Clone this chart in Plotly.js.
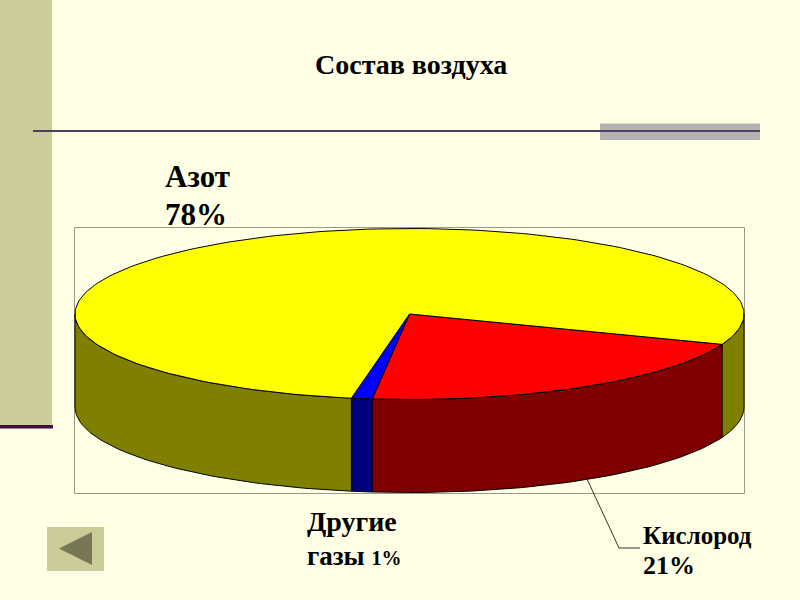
<!DOCTYPE html>
<html>
<head>
<meta charset="utf-8">
<script src="https://cdn.plot.ly/plotly-3.0.1.min.js"></script>
<style>html,body{margin:0;padding:0;background:#FFFFE5}#chart{width:800px;height:600px}</style>
</head>
<body>
<div id="chart"></div>
<script>
// Data
var categories = ['Кислород', 'Другие газы', 'Азот'];
var values = [21, 1, 78];
var topColors = ['#FF0000', '#0000FF', '#FFFF00'];
var sideColors = ['#800000', '#000080', '#808000'];
var titleText = 'Состав воздуха';

// Pie projection
var cx = 409.5, cy = 314, rx = 334.5, ry = 85.5, depth = 93;
var startAngle = -20.8; // degrees, going clockwise

function px(a) { return cx + rx * Math.cos(a * Math.PI / 180); }
function py(a) { return cy - ry * Math.sin(a * Math.PI / 180); }
function arc(a0, a1) { // a0 > a1, clockwise
  var out = [], n = Math.max(2, Math.ceil((a0 - a1) / 1.5));
  for (var i = 0; i <= n; i++) out.push(a0 + (a1 - a0) * i / n);
  return out;
}

var total = values.reduce(function (s, v) { return s + v; }, 0);
var traces = [];
var sideTraces = [];
var topTraces = [];
var a = startAngle;
values.forEach(function (v, i) {
  var sweep = v / total * 360, a0 = a, a1 = a - sweep;
  // Visible outer wall: the part of the rim on the near half of the ellipse
  [0, 360].forEach(function (shift) {
    var s = Math.min(a0 + shift, 0), e = Math.max(a1 + shift, -180);
    if (s > e) {
      var angs = arc(s, e);
      var xs = angs.map(px), ys = angs.map(py);
      var xb = xs.slice().reverse();
      var yb = ys.slice().reverse().map(function (y) { return y + depth; });
      sideTraces.push({
        type: 'scatter', mode: 'lines', fill: 'toself', fillcolor: sideColors[i],
        x: xs.concat(xb, [xs[0]]), y: ys.concat(yb, [ys[0]]),
        line: { color: '#000000', width: 1 }, name: categories[i],
        hoverinfo: 'skip', showlegend: false
      });
    }
  });
  var angs = arc(a0, a1);
  topTraces.push({
    type: 'scatter', mode: 'lines', fill: 'toself', fillcolor: topColors[i],
    x: [cx].concat(angs.map(px), [cx]), y: [cy].concat(angs.map(py), [cy]),
    line: { color: '#000000', width: 1 }, name: categories[i],
    hoverinfo: 'skip', showlegend: false
  });
  a = a1;
});
traces = sideTraces.concat(topTraces);

var serif = '"Liberation Serif", "Times New Roman", serif';
function label(x, y, text, size, anchor) {
  return { x: x, y: y, xref: 'x', yref: 'y', text: text, showarrow: false,
    xanchor: anchor || 'left', yanchor: 'middle',
    font: { family: serif, size: size, color: '#000000' } };
}

var layout = {
  width: 800, height: 600,
  margin: { l: 0, r: 0, t: 0, b: 0 },
  paper_bgcolor: '#FFFFE5', plot_bgcolor: 'rgba(0,0,0,0)',
  showlegend: false,
  xaxis: { range: [0, 800], visible: false, fixedrange: true },
  yaxis: { range: [600, 0], visible: false, fixedrange: true },
  shapes: [
    { type: 'rect', layer: 'below', x0: 0, x1: 52, y0: 0, y1: 425, fillcolor: '#CCCC99', line: { width: 0 } },
    { type: 'rect', layer: 'below', x0: 0, x1: 53, y0: 425, y1: 428.5, fillcolor: '#3F0F3F', line: { width: 0 } },
    { type: 'rect', layer: 'below', x0: 600, x1: 760, y0: 123.5, y1: 140, fillcolor: '#B2B2B2', line: { width: 0 } },
    { type: 'line', layer: 'below', x0: 33, x1: 760, y0: 131, y1: 131, line: { color: '#4F3F5F', width: 2 } },
    { type: 'rect', layer: 'below', x0: 74.5, x1: 744.5, y0: 227.5, y1: 493.5, fillcolor: 'rgba(0,0,0,0)', line: { color: '#999988', width: 1 } },
    { type: 'rect', layer: 'below', x0: 47, x1: 104, y0: 527, y1: 571, fillcolor: '#CCCC99', line: { width: 0 } },
    { type: 'path', layer: 'below', path: 'M 92 532 L 92 565 L 59 548.5 Z', fillcolor: '#777755', line: { width: 0 } },
    { type: 'path', layer: 'above', path: 'M 587 479 L 619 548 L 640 548', line: { color: '#333333', width: 1 } }
  ],
  annotations: [
    label(411, 64, '<b>' + titleText + '</b>', 28, 'center'),
    label(163, 176, '<b>Азот</b>', 31),
    label(163, 214, '<b>78%</b>', 31),
    label(305, 521, '<b>Другие</b>', 28),
    label(305, 556, '<b>газы <span style="font-size:20px">1%</span></b>', 27),
    label(641, 535, '<b>Кислород</b>', 25),
    label(641, 565, '<b>21%</b>', 26)
  ]
};

Plotly.newPlot('chart', traces, layout, { displayModeBar: false, staticPlot: true });
</script>
</body>
</html>
